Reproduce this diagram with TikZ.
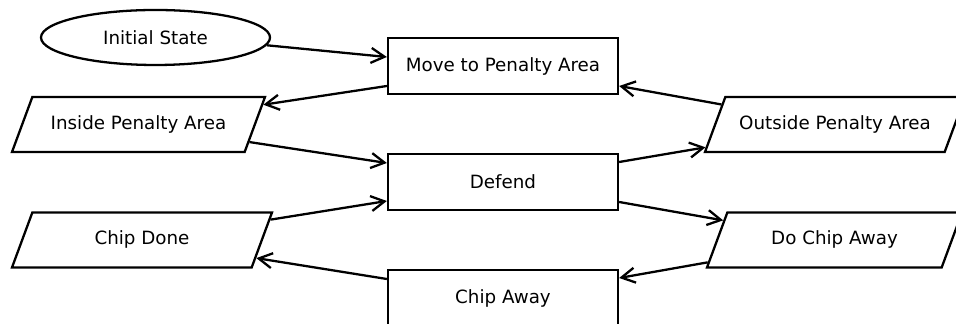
\documentclass[tikz,border=0pt]{standalone}
\usepackage{fontspec}
\setmainfont{DejaVu Sans}
\usetikzlibrary{arrows.meta,shapes.geometric}

\begin{document}
\begin{tikzpicture}[
    every node/.style={font=\fontsize{10.4}{12}\selectfont,line width=1.3pt,draw=black},
    statebox/.style={rectangle,minimum width=4.6cm,minimum height=1.12cm},
    startbox/.style={ellipse,minimum width=4.58cm,minimum height=1.1cm},
    eventbox/.style={trapezium,trapezium left angle=56,trapezium right angle=124,
                     trapezium stretches body=true,text height=0.8em,text depth=0.25em,
                     minimum height=1.1cm},
    flow/.style={-{Straight Barb[length=2.7mm,width=3mm]},line width=1.3pt}]
  \useasboundingbox (0,0) rectangle (19.12,-6.48);
  % states
  \node[startbox] (init) at (3.11,-0.75) {Initial State};
  \node[statebox] (move) at (10.06,-1.32) {Move to Penalty Area};
  \node[statebox] (defend) at (10.06,-3.64) {Defend};
  \node[statebox] (chipaway) at (10.06,-5.96) {Chip Away};
  % events
  \node[eventbox,minimum width=5.06cm] (inside) at (2.77,-2.49) {Inside Penalty Area};
  \node[eventbox,minimum width=5.2cm] (outside) at (16.7,-2.49) {Outside Penalty Area};
  \node[eventbox,minimum width=5.2cm] (chipdone) at (2.84,-4.8) {Chip Done};
  \node[eventbox,minimum width=5.1cm] (dochip) at (16.69,-4.8) {Do Chip Away};
  % transitions
  \draw[flow] (init.-4) -- ([yshift=0.18cm]move.west);
  \draw[flow] ([yshift=-0.4cm]move.west) -- (inside.9);
  \draw[flow] (inside.-9) -- ([yshift=0.38cm]defend.west);
  \draw[flow] ([yshift=0.4cm]defend.east) -- (outside.190);
  \draw[flow] (outside.170) -- ([yshift=-0.4cm]move.east);
  \draw[flow] (chipdone.9) -- ([yshift=-0.38cm]defend.west);
  \draw[flow] ([yshift=-0.4cm]defend.east) -- (dochip.170);
  \draw[flow] (dochip.190) -- ([yshift=0.4cm]chipaway.east);
  \draw[flow] ([yshift=0.38cm]chipaway.west) -- (chipdone.-9);
\end{tikzpicture}
\end{document}
